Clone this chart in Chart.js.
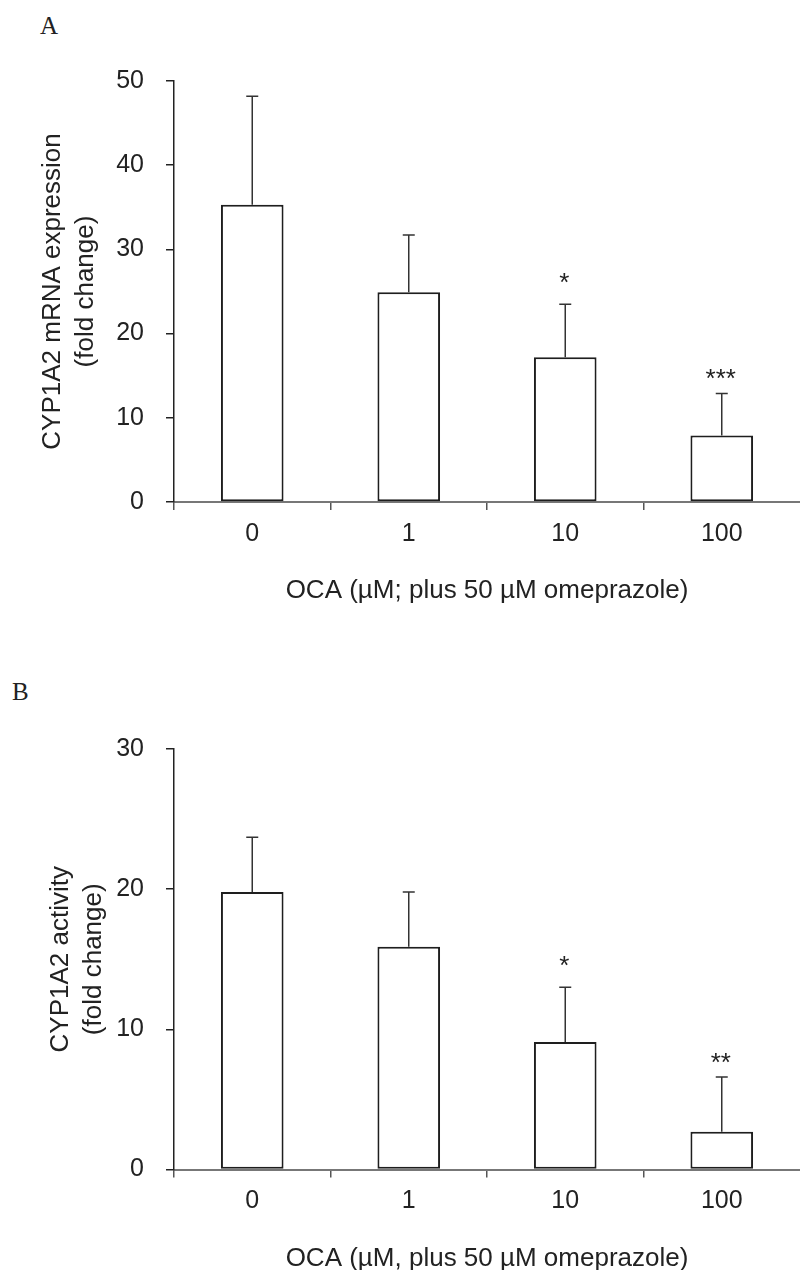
<!DOCTYPE html>
<html>
<head>
<meta charset="utf-8">
<script src="https://cdn.jsdelivr.net/npm/chart.js@4.4.1/dist/chart.umd.min.js"></script>
<style>
  html, body { margin: 0; padding: 0; background: #fff; overflow: hidden; }
  body { position: relative; width: 800px; height: 1270px; }
  canvas { position: absolute; left: 0; }
  #chartA { top: 0; }
  #chartB { top: 620px; }
  .panel { position: absolute; font-family: "Liberation Serif", "Times New Roman", serif; font-size: 25px; line-height: 25px; color: #222; }
</style>
</head>
<body>
<div class="panel" style="left:40px;top:13px">A</div>
<div class="panel" style="left:12px;top:679px">B</div>
<canvas id="chartA" width="800" height="620"></canvas>
<canvas id="chartB" width="800" height="670"></canvas>
<script>
const doses = ["0", "1", "10", "100"];

// panel A: mRNA expression
const mrnaMean = [35.3, 24.9, 17.2, 7.9];
const mrnaErr = [12.9, 6.8, 6.3, 5.0];
const mrnaSig = ["", "", "*", "***"];

// panel B: activity
const activityMean = [19.8, 15.9, 9.1, 2.7];
const activityErr = [3.9, 3.9, 3.9, 3.9];
const activitySig = ["", "", "*", "**"];

Chart.defaults.font.family = "'Liberation Sans', Arial, sans-serif";
Chart.defaults.color = "#222";

// upper error bars + significance stars
const errorBars = {
  id: "errorBars",
  afterDatasetsDraw(chart, args, opts) {
    const ctx = chart.ctx;
    const yScale = chart.scales.y;
    const values = chart.data.datasets[0].data;
    ctx.save();
    chart.getDatasetMeta(0).data.forEach((bar, i) => {
      const top = yScale.getPixelForValue(values[i] + opts.err[i]);
      ctx.strokeStyle = "#333";
      ctx.lineWidth = 1.5;
      ctx.beginPath();
      ctx.moveTo(bar.x, bar.y);
      ctx.lineTo(bar.x, top);
      ctx.moveTo(bar.x - 6, top);
      ctx.lineTo(bar.x + 6, top);
      ctx.stroke();
      const sig = opts.sig[i];
      if (sig) {
        ctx.fillStyle = "#222";
        ctx.font = "26px 'Liberation Sans', Arial, sans-serif";
        ctx.textAlign = "center";
        ctx.textBaseline = "alphabetic";
        const gap = sig.length === 1 ? 28 : 21;
        ctx.fillText(sig, bar.x - 1, top - gap + 15);
      }
    });
    ctx.restore();
  }
};

function makeChart(id, means, err, sig, yMax, yTitle, xTitle, padTop, xHeight, yTitlePad, xTitlePad) {
  return new Chart(document.getElementById(id), {
    type: "bar",
    data: {
      labels: doses,
      datasets: [{
        data: means,
        backgroundColor: "#fff",
        borderColor: "#1e1e1e",
        borderWidth: 2,
        borderSkipped: false,
        barPercentage: 0.4,
        categoryPercentage: 1,
      }],
    },
    plugins: [errorBars],
    options: {
      responsive: false,
      animation: false,
      layout: { padding: { top: padTop, left: 0, right: 0, bottom: 0 } },
      plugins: {
        legend: { display: false },
        tooltip: { enabled: false },
        errorBars: { err: err, sig: sig },
      },
      scales: {
        x: {
          grid: {
            offset: true,
            drawOnChartArea: false,
            tickLength: 8,
            lineWidth: 1.5,
            color: (c) => c.type === "tick" ? "#555" : "rgba(0,0,0,0)",
          },
          border: { color: "#777", width: 2 },
          ticks: { padding: 9, font: { size: 25 } },
          title: { display: true, text: xTitle, font: { size: 26 }, padding: { top: 0, bottom: xTitlePad } },
          afterFit: (s) => { s.height = xHeight; },
        },
        y: {
          min: 0,
          max: yMax,
          ticks: { stepSize: 10, padding: 22, font: { size: 25 } },
          grid: { drawOnChartArea: false, tickLength: 8, lineWidth: 1.5, color: "#222" },
          border: { color: "#222", width: 1.5 },
          title: { display: true, text: yTitle, font: { size: 26, lineHeight: 1.25 }, padding: { top: yTitlePad, bottom: 0 } },
          afterFit: (s) => { s.width = 174; },
        },
      },
    },
  });
}

makeChart("chartA", mrnaMean, mrnaErr, mrnaSig, 50,
  ["CYP1A2 mRNA expression", "(fold change)"],
  "OCA (µM; plus 50 µM omeprazole)", 81, 118, 37, 14);

makeChart("chartB", activityMean, activityErr, activitySig, 30,
  ["CYP1A2 activity", "(fold change)"],
  "OCA (µM, plus 50 µM omeprazole)", 129, 120.5, 45, 16);
</script>
</body>
</html>
